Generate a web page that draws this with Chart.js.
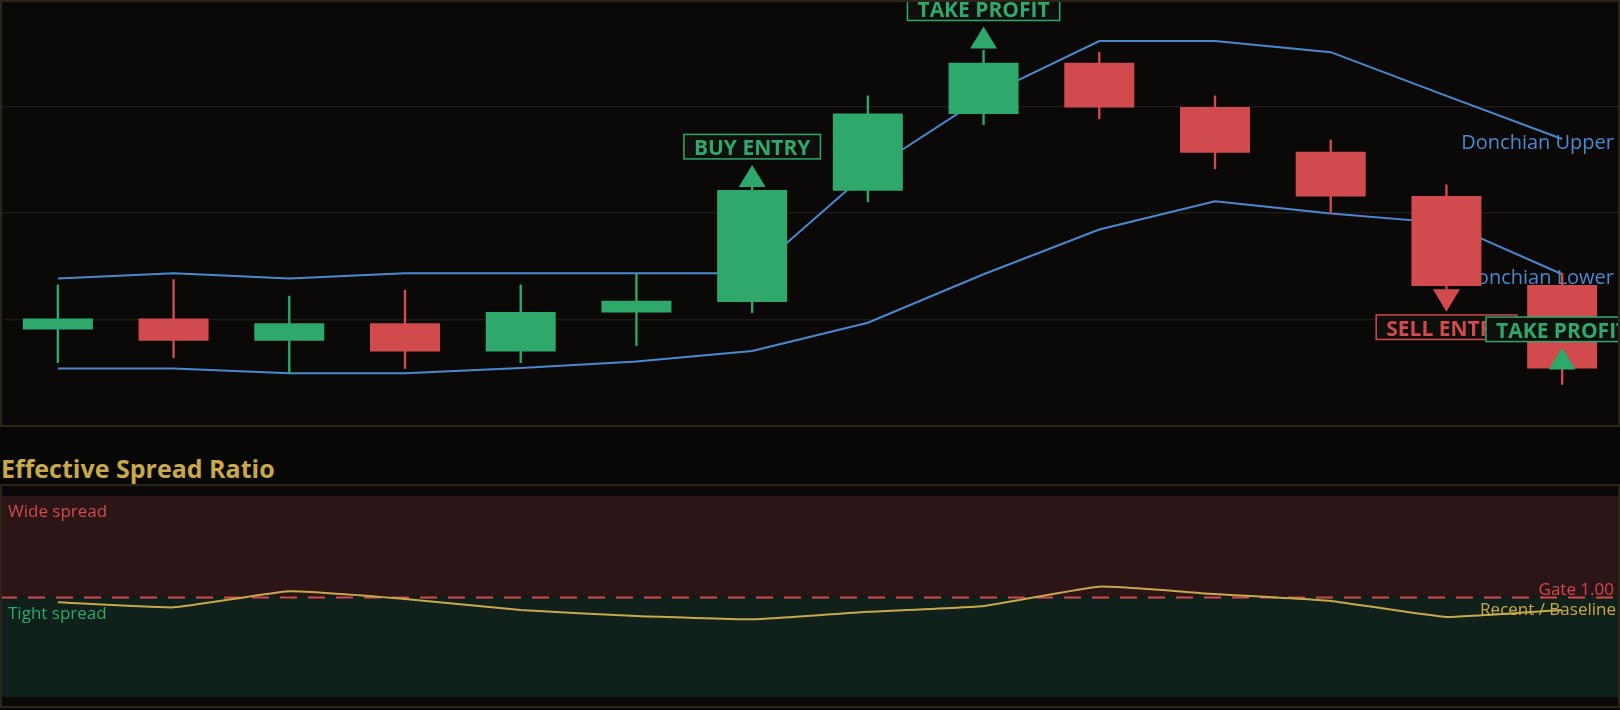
<!DOCTYPE html>
<html>
<head>
<meta charset="utf-8">
<script src="https://cdn.jsdelivr.net/npm/chart.js@4.4.1/dist/chart.umd.min.js"></script>
<style>
  body { margin: 0; background: #0a0908; width: 1620px; height: 710px; overflow: hidden; position: relative; font-family: "Open Sans", sans-serif; }
  .box { position: absolute; left: 0; width: 1620px; }
  .frame { position: absolute; left: 0; width: 1620px; box-sizing: border-box; border: 2px solid #2b2519; pointer-events: none; z-index: 5; }
  #title { position: absolute; left: 1px; top: 456px; font: bold 25px/25px "Open Sans", sans-serif; color: #c9a84c; white-space: nowrap; }
</style>
</head>
<body>
<div class="box" style="top:0;height:426px"><canvas id="priceChart"></canvas></div>
<div class="frame" style="top:0;height:427px"></div>
<div class="box" style="top:427px;height:57px;background:#070706"></div>
<div id="title">Effective Spread Ratio</div>
<div class="frame" style="top:484px;height:224px"></div>
<div class="box" style="top:496px;height:201px"><canvas id="spreadChart"></canvas></div>
<script>
// bars (15 min)
var categories = ["09:00", "09:15", "09:30", "09:45", "10:00", "10:15", "10:30",
                  "10:45", "11:00", "11:15", "11:30", "11:45", "12:00", "12:15"];
var openP  = [97.81, 98.02, 97.60, 97.93, 97.40, 98.13, 98.33, 100.42, 101.86, 102.82, 101.99, 101.15, 100.32, 98.65];
var closeP = [98.02, 97.60, 97.93, 97.40, 98.14, 98.35, 100.43, 101.87, 102.82, 101.98, 101.13, 100.31, 98.63, 97.08];
var highP  = [98.65, 98.75, 98.44, 98.55, 98.65, 98.85, 100.49, 102.20, 103.06, 103.02, 102.20, 101.37, 100.53, 98.87];
var lowP   = [97.19, 97.28, 96.98, 97.08, 97.19, 97.51, 98.13, 100.21, 101.66, 101.77, 100.83, 99.99, 98.57, 96.78];

var donchianUpper = [98.77, 98.87, 98.77, 98.87, 98.87, 98.87, 98.87, 100.77, 102.18, 103.23, 103.23, 103.02, 102.20, 101.39];
var donchianLower = [97.08, 97.08, 96.99, 96.99, 97.09, 97.21, 97.41, 97.94, 98.85, 99.69, 100.22, 99.99, 99.81, 98.85];

// trade signals
var markerIdx   = [6, 8, 12, 13];
var markerPrice = [100.49, 103.09, 98.57, 97.06];
var markerDir   = ["up", "up", "down", "up"];
var markerText  = ["BUY ENTRY", "TAKE PROFIT", "SELL ENTRY", "TAKE PROFIT"];

// recent / baseline spread
var spreadRatio = [0.971, 0.946, 1.026, 0.988, 0.933, 0.903, 0.887, 0.924, 0.953, 1.049, 1.012, 0.978, 0.898, 0.933];
var gateLevel = 1.00;

var GREEN = "#2ea86b", RED = "#d04a4e", BLUE = "#4a88d0", GOLD = "#c9a84c";

var upColors = openP.map(function (o, i) { return closeP[i] >= o ? GREEN : RED; });

var bandLabels = {
  id: "bandLabels",
  beforeDatasetsDraw: function (chart) {
    var ctx = chart.ctx, y = chart.scales.y, n = categories.length - 1;
    ctx.save();
    ctx.font = "20px 'Open Sans'";
    ctx.fillStyle = BLUE;
    ctx.textAlign = "right";
    ctx.textBaseline = "alphabetic";
    ctx.fillText("Donchian Upper", 1614, y.getPixelForValue(donchianUpper[n]) + 10);
    ctx.fillText("Donchian Lower", 1614, y.getPixelForValue(donchianLower[n]) + 10);
    ctx.restore();
  }
};

var signals = {
  id: "signals",
  afterDatasetsDraw: function (chart) {
    var ctx = chart.ctx, xs = chart.scales.x, ys = chart.scales.y;
    ctx.save();
    ctx.font = "bold 21px 'Open Sans'";
    ctx.textAlign = "center";
    ctx.textBaseline = "alphabetic";
    for (var i = 0; i < markerIdx.length; i++) {
      var x = xs.getPixelForValue(markerIdx[i]);
      var yb = ys.getPixelForValue(markerPrice[i]);
      var col = markerText[i] == "SELL ENTRY" ? RED : GREEN;
      var w = ctx.measureText(markerText[i]).width + 20, h = 24.5, top;
      ctx.fillStyle = col;
      ctx.beginPath();
      if (markerDir[i] == "up") {
        ctx.moveTo(x - 13.5, yb); ctx.lineTo(x, yb - 22); ctx.lineTo(x + 13.5, yb);
        top = yb - 22 - 6 - h;
      } else {
        ctx.moveTo(x - 13.5, yb); ctx.lineTo(x, yb + 22.5); ctx.lineTo(x + 13.5, yb);
        top = yb + 22.5 + 3.3;
      }
      ctx.closePath();
      ctx.fill();
      ctx.fillStyle = "#0f0f0d";
      ctx.fillRect(x - w / 2, top, w, h);
      ctx.strokeStyle = col;
      ctx.lineWidth = 1.5;
      ctx.strokeRect(x - w / 2, top, w, h);
      ctx.fillStyle = col;
      ctx.fillText(markerText[i], x, top + 21);
    }
    ctx.restore();
  }
};

new Chart("priceChart", {
  type: "bar",
  data: {
    labels: categories,
    datasets: [
      { type: "line", data: donchianUpper, borderColor: BLUE, borderWidth: 2, pointRadius: 0, tension: 0, order: 3 },
      { type: "line", data: donchianLower, borderColor: BLUE, borderWidth: 2, pointRadius: 0, tension: 0, order: 3 },
      { data: lowP.map(function (l, i) { return [l, highP[i]]; }), backgroundColor: upColors,
        barThickness: 1.7, grouped: false, order: 2 },
      { data: openP.map(function (o, i) { return [o, closeP[i]]; }), backgroundColor: upColors,
        barPercentage: 0.605, categoryPercentage: 1, grouped: false, order: 1 }
    ]
  },
  options: {
    responsive: true,
    maintainAspectRatio: false,
    animation: false,
    layout: { padding: 0 },
    plugins: { legend: { display: false }, tooltip: { enabled: false } },
    scales: {
      x: { display: false, offset: true },
      y: {
        min: 96, max: 104,
        ticks: { display: false, stepSize: 2 },
        border: { display: false },
        grid: { color: "#1d1b18", lineWidth: 1.5, drawTicks: false },
        afterFit: function (s) { s.width = 0; }
      }
    }
  },
  plugins: [bandLabels, signals]
});

var zones = {
  id: "zones",
  beforeDatasetsDraw: function (chart) {
    var ctx = chart.ctx, y = chart.scales.y, a = chart.chartArea;
    var g = y.getPixelForValue(gateLevel);
    ctx.save();
    ctx.fillStyle = "#2c1517";
    ctx.fillRect(a.left, y.getPixelForValue(y.max), a.right - a.left, g - y.getPixelForValue(y.max));
    ctx.fillStyle = "#10201a";
    ctx.fillRect(a.left, g, a.right - a.left, y.getPixelForValue(y.min) - g);
    ctx.strokeStyle = RED;
    ctx.lineWidth = 2;
    ctx.setLineDash([17, 11]);
    ctx.beginPath();
    ctx.moveTo(a.left, g + 1);
    ctx.lineTo(a.right, g + 1);
    ctx.stroke();
    ctx.setLineDash([]);
    ctx.font = "17px 'Open Sans'";
    ctx.textBaseline = "alphabetic";
    ctx.textAlign = "left";
    ctx.fillStyle = RED;
    ctx.fillText("Wide spread", 8, 21);
    ctx.fillStyle = GREEN;
    ctx.fillText("Tight spread", 8, 123);
    ctx.textAlign = "right";
    ctx.fillStyle = RED;
    ctx.fillText("Gate 1.00", 1614, g - 2);
    ctx.restore();
  },
  afterDatasetsDraw: function (chart) {
    var ctx = chart.ctx;
    ctx.save();
    ctx.font = "17px 'Open Sans'";
    ctx.textAlign = "right";
    ctx.fillStyle = GOLD;
    ctx.fillText("Recent / Baseline", 1616, 119);
    ctx.restore();
  }
};

new Chart("spreadChart", {
  type: "line",
  data: {
    labels: categories,
    datasets: [
      { data: spreadRatio, borderColor: GOLD, borderWidth: 2, pointRadius: 0, tension: 0.12 }
    ]
  },
  options: {
    responsive: true,
    maintainAspectRatio: false,
    animation: false,
    layout: { padding: 0 },
    plugins: { legend: { display: false }, tooltip: { enabled: false } },
    scales: {
      x: { display: false, offset: true },
      y: { display: false, min: 0.5, max: 1.5 }
    }
  },
  plugins: [zones]
});
</script>
</body>
</html>
